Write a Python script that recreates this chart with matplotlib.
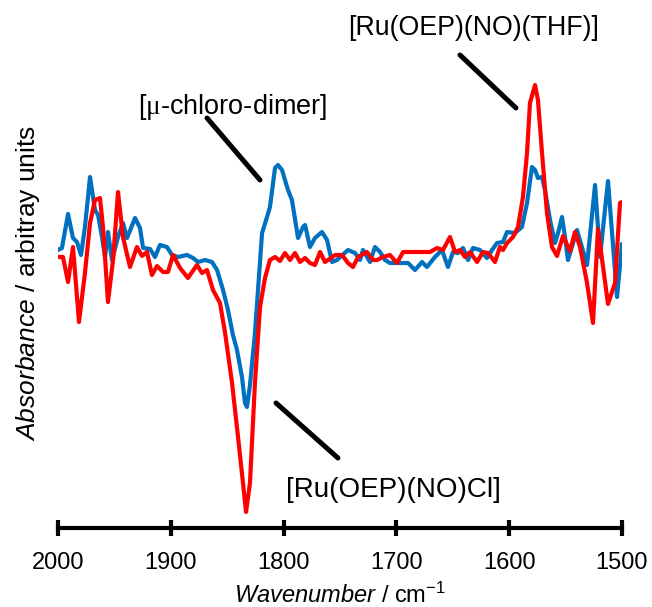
import matplotlib
matplotlib.use("Agg")
import matplotlib.pyplot as plt

plt.rcParams['font.family'] = ['Liberation Sans', 'DejaVu Sans']
plt.rcParams['mathtext.fontset'] = 'custom'
plt.rcParams['mathtext.rm'] = 'Liberation Sans'
plt.rcParams['mathtext.it'] = 'Liberation Sans:italic'
plt.rcParams['mathtext.sf'] = 'Liberation Serif'

# ---- data ----
wn_dimer = [2000, 1996.5, 1991.1, 1986.7, 1983.2, 1979.6, 1976.1, 1971.6, 1967.2, 1964.5,
            1961.0, 1958.3, 1955.7, 1952.1, 1946.8, 1942.4, 1938.8, 1931.7, 1927.3, 1924.6,
            1918.4, 1914.0, 1909.6, 1903.4, 1898.9, 1893.6, 1885.6, 1880.3, 1875.9, 1869.7,
            1863.5, 1859.0, 1853.7, 1849.3, 1844.9, 1841.3, 1836.9, 1834.2, 1832.5, 1829.8,
            1825.4, 1819.1, 1814.7, 1812.1, 1807.6, 1805.0, 1801.4, 1796.1, 1792.6, 1787.2,
            1782.8, 1781.0, 1776.6, 1772.2, 1766.0, 1761.5, 1757.1, 1752.7, 1742.9, 1736.7,
            1732.3, 1729.6, 1723.4, 1719.0, 1714.5, 1710.1, 1705.7, 1696.8, 1689.7, 1683.5,
            1677.3, 1672.9, 1665.8, 1659.6, 1654.3, 1649.8, 1645.4, 1640.9, 1636.5, 1632.1,
            1625.9, 1619.7, 1615.2, 1610.8, 1605.5, 1601.9, 1594.9, 1588.7, 1584.2, 1579.8,
            1577.1, 1574.5, 1570.9, 1568.3, 1563.8, 1559.4, 1556.7, 1553.2, 1550.5, 1547.9,
            1539.9, 1531.0, 1523.9, 1519.5, 1512.4, 1504.4, 1500.0]
abs_dimer = [0.08, 0.10, 0.44, 0.20, 0.16, 0.03, 0.31, 0.81, 0.48, 0.43,
             0.21, 0.01, 0.26, -0.02, 0.21, 0.35, 0.20, 0.40, 0.30, 0.10,
             0.09, 0.01, 0.13, 0.11, 0.03, 0.01, 0.03, 0.00, -0.04, -0.02,
             -0.04, -0.12, -0.32, -0.52, -0.77, -0.92, -1.19, -1.45, -1.49, -1.27,
             -0.75, 0.25, 0.41, 0.51, 0.90, 0.93, 0.88, 0.68, 0.58, 0.20,
             0.31, 0.33, 0.11, 0.20, 0.26, 0.18, -0.04, -0.02, 0.08, 0.05,
             -0.02, 0.08, -0.04, 0.11, 0.06, -0.02, -0.05, -0.05, -0.05, -0.12,
             -0.04, -0.09, 0.01, 0.08, -0.09, 0.06, 0.05, 0.10, -0.02, 0.10,
             0.08, 0.00, 0.08, 0.15, 0.16, 0.26, 0.25, 0.31, 0.55, 0.91,
             0.88, 0.80, 0.81, 0.68, 0.38, 0.15, 0.25, 0.41, 0.21, -0.02,
             0.28, -0.07, 0.73, 0.01, 0.77, -0.39, 0.14]

wn_cl = [2000, 1995.6, 1991.1, 1986.7, 1981.4, 1976.1, 1971.6, 1967.2, 1962.8, 1960.1,
         1955.7, 1951.2, 1946.8, 1942.4, 1936.2, 1930.0, 1925.5, 1921.1, 1916.7, 1912.2,
         1906.9, 1902.5, 1898.0, 1891.8, 1884.8, 1876.8, 1872.3, 1867.9, 1862.6, 1856.4,
         1852.0, 1845.7, 1840.4, 1836.0, 1833.3, 1829.8, 1825.4, 1820.9, 1816.5, 1812.1,
         1807.6, 1803.2, 1798.8, 1794.3, 1789.9, 1785.5, 1781.0, 1776.6, 1772.2, 1767.7,
         1763.3, 1760.6, 1754.4, 1748.2, 1742.9, 1738.5, 1734.0, 1726.1, 1720.7, 1717.2,
         1711.9, 1705.7, 1699.5, 1694.1, 1688.0, 1679.1, 1670.2, 1664.0, 1658.7, 1652.5,
         1648.0, 1643.6, 1639.2, 1634.8, 1628.5, 1623.2, 1618.8, 1612.6, 1608.2, 1605.5,
         1601.9, 1596.6, 1592.2, 1587.8, 1584.2, 1581.6, 1577.1, 1574.5, 1570.9, 1566.5,
         1562.1, 1557.6, 1552.3, 1546.1, 1541.7, 1537.2, 1531.0, 1525.7, 1521.3, 1512.4,
         1506.2, 1501.8, 1500.0]
abs_cl = [0.01, 0.01, -0.24, 0.11, -0.64, -0.15, 0.35, 0.58, 0.60, 0.31,
          -0.44, -0.02, 0.66, 0.21, -0.09, 0.11, 0.02, 0.06, -0.17, -0.08,
          -0.14, -0.14, 0.03, -0.10, -0.20, -0.07, -0.15, -0.12, -0.32, -0.45,
          -0.74, -1.25, -1.79, -2.25, -2.54, -2.25, -1.25, -0.49, -0.20, -0.02,
          0.01, -0.03, 0.05, -0.02, 0.05, -0.04, 0.00, -0.05, -0.07, 0.06,
          -0.04, -0.02, 0.03, 0.03, -0.05, -0.09, 0.01, 0.06, -0.02, -0.02,
          0.01, 0.03, -0.05, 0.06, 0.06, 0.06, 0.06, 0.10, 0.08, 0.21,
          0.06, 0.08, 0.01, 0.06, -0.04, 0.06, 0.05, -0.04, 0.11, 0.08,
          0.15, 0.21, 0.31, 0.61, 1.05, 1.55, 1.73, 1.58, 1.05, 0.45,
          0.11, 0.02, 0.22, 0.07, 0.26, 0.11, -0.25, -0.65, 0.29, -0.46,
          -0.25, 0.55, 0.56]

x_ticks = [2000, 1900, 1800, 1700, 1600, 1500]

label_thf = "[Ru(OEP)(NO)(THF)]"
label_dimer = r"[$\mathsf{\mu}$-chloro-dimer]"
label_cl = "[Ru(OEP)(NO)Cl]"

# ---- figure ----
W, H = 652, 607
fig = plt.figure(figsize=(W / 100, H / 100), dpi=100)
ax = fig.add_axes([58 / W, 1 - 528 / H, (622 - 58) / W, (528 - 10) / H])

ax.plot(wn_dimer, abs_dimer, color='#0070C0', lw=3.0,
        solid_joinstyle='round', solid_capstyle='round')
ax.plot(wn_cl, abs_cl, color='#FF0000', lw=3.0,
        solid_joinstyle='round', solid_capstyle='round')

ax.set_xlim(2000, 1500)
ax.set_ylim(-2.70, 2.48)
ax.set_xticks(x_ticks)
ax.set_xticklabels([str(t) for t in x_ticks])
ax.set_yticks([])
for s in ['top', 'right', 'left']:
    ax.spines[s].set_visible(False)
ax.spines['bottom'].set_linewidth(3.0)
ax.tick_params(axis='x', direction='inout', length=11, width=3.0,
               labelsize=17, pad=12)

ax.set_xlabel(r"$\mathit{Wavenumber}$ / cm$^{\mathregular{-1}}$", fontsize=17, labelpad=6)
fig.text(28 / W, 1 - 283 / H, r"$\mathit{Absorbance}$ / arbitray units",
         rotation=90, ha='center', va='center', fontsize=19)

# annotations
line_kw = dict(arrowprops=dict(arrowstyle='-', lw=3.6, color='black', shrinkA=0, shrinkB=0))
ax.annotate('', xy=(1820.9, 0.78), xytext=(1867.9, 1.40), **line_kw)
ax.annotate('', xy=(1594.0, 1.50), xytext=(1643.6, 2.03), annotation_clip=False, **line_kw)
ax.annotate('', xy=(1751.8, -2.00), xytext=(1806.7, -1.45), **line_kw)

ax.text(1631.2, 2.30, label_thf, ha='center', va='center', fontsize=19.3, clip_on=False)
ax.text(1844.9, 1.51, label_dimer, ha='center', va='center', fontsize=19.5)
ax.text(1703.0, -2.32, label_cl, ha='center', va='center', fontsize=20)

fig.savefig("out.png", dpi=100)
